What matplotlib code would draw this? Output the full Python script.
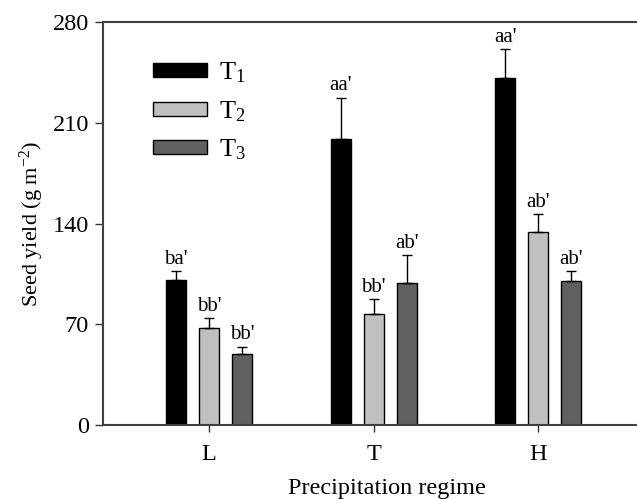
import numpy as np
import matplotlib
matplotlib.use("Agg")
import matplotlib.pyplot as plt
from matplotlib.patches import Patch

plt.rcParams['font.family'] = ['Liberation Serif', 'DejaVu Serif']
plt.rcParams['mathtext.fontset'] = 'custom'
plt.rcParams['mathtext.rm'] = 'Liberation Serif'
plt.rcParams['mathtext.it'] = 'Liberation Serif:italic'

# data
regimes = ['L', 'T', 'H']
treatments = ['T$_1$', 'T$_2$', 'T$_3$']
t1_mean = [101, 198.5, 241]
t2_mean = [67.5, 77, 134]
t3_mean = [49.5, 99, 100]
t1_err = [6, 29, 20]
t2_err = [6.5, 10.5, 12.5]
t3_err = [5, 19, 7]
t1_lab = ["ba'", "aa'", "aa'"]
t2_lab = ["bb'", "bb'", "ab'"]
t3_lab = ["bb'", "ab'", "ab'"]

colors = ['#000000', '#c0c0c0', '#606060']
means = [t1_mean, t2_mean, t3_mean]
errs = [t1_err, t2_err, t3_err]
labs = [t1_lab, t2_lab, t3_lab]

fig = plt.figure(figsize=(6.37, 4.99), dpi=100)
ax = fig.add_axes([0.1617, 0.1483, 0.89, 0.8076])

x = np.arange(len(regimes))
width = 0.122
offsets = [-0.2, 0.0, 0.2]

for i in range(3):
    m = np.array(means[i])
    e = np.array(errs[i])
    ax.bar(x + offsets[i], m, width, color=colors[i], edgecolor='black',
           linewidth=1.0, zorder=2)
    ax.errorbar(x + offsets[i], m, yerr=[np.zeros_like(e), e], fmt='none',
                ecolor='black', elinewidth=1.0, capsize=3.5, capthick=1.0, zorder=3)
    for xi, yi, ei, s in zip(x + offsets[i], m, e, labs[i]):
        ax.annotate(s, (xi, yi + ei), xytext=(0, 1.5), textcoords='offset points',
                    ha='center', va='bottom', fontsize=15)

ax.set_xlim(-0.644, 2.80)
ax.set_ylim(0, 280)
ax.set_yticks([0, 70, 140, 210, 280])
ax.set_xticks(x)
ax.set_xticklabels(regimes)
ax.tick_params(axis='both', direction='out', labelsize=17.5, width=1.0, color='#333333')
ax.tick_params(axis='y', length=6, pad=4)
ax.tick_params(axis='x', length=5, pad=9)
for sp in ax.spines.values():
    sp.set_color('#404040')
    sp.set_linewidth(1.5)

ax.set_ylabel('Seed yield (g m$^{-2}$)', fontsize=16, labelpad=5)
ax.set_xlabel('Precipitation regime', fontsize=17.5, labelpad=9)

handles = [Patch(facecolor=c, edgecolor='black', linewidth=1.0) for c in colors]
ax.legend(handles, treatments, loc='upper left', bbox_to_anchor=(0.07, 0.93),
          frameon=False, fontsize=19, handlelength=2.05, handleheight=0.45,
          labelspacing=0.52, handletextpad=0.45, borderaxespad=0)

fig.savefig('out.png', dpi=100)
